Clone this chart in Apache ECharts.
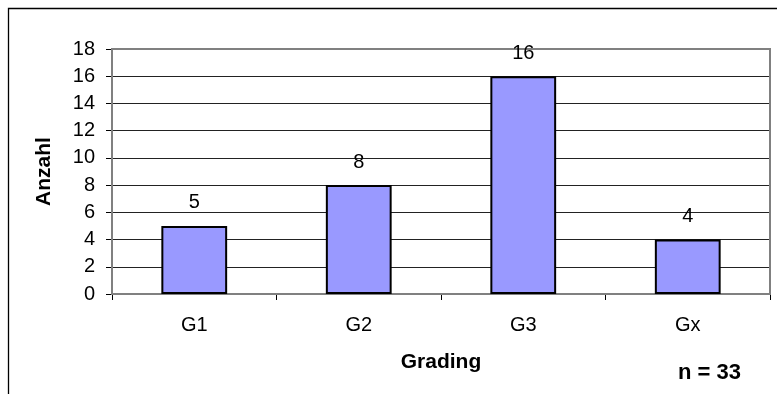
<!DOCTYPE html>
<html><head><meta charset="utf-8">
<script src="https://cdn.jsdelivr.net/npm/echarts@6/dist/echarts.min.js"></script>
<style>html,body{margin:0;padding:0;background:#fff}#c{width:777px;height:394px}</style>
</head><body><div id="c"></div>
<script>
const categories = ['G1', 'G2', 'G3', 'Gx'];
const counts = [5, 8, 16, 4];
const yTicks = [0, 2, 4, 6, 8, 10, 12, 14, 16, 18];
const F = 'Liberation Sans';
const chart = echarts.init(document.getElementById('c'), null, {renderer: 'canvas'});
chart.setOption({
  animation: false,
  backgroundColor: '#fff',
  graphic: [
    {type: 'rect', shape: {x: 8.5, y: 8.5, width: 780, height: 400}, style: {fill: 'none', stroke: '#000', lineWidth: 1.3}, silent: true, z: 0},
    {type: 'rect', shape: {x: 112, y: 49, width: 658, height: 245}, style: {fill: 'none', stroke: '#808080', lineWidth: 2}, silent: true, z: 1},
    {type: 'text', left: 678, top: 362, style: {text: 'n = 33', fontWeight: 'bold', fontSize: 22, fontFamily: F, fill: '#000'}, z: 5}
  ],
  grid: {left: 112, top: 49, width: 658, height: 245, containLabel: false},
  xAxis: {
    type: 'category', data: categories,
    name: 'Grading', nameLocation: 'middle', nameGap: 58,
    nameTextStyle: {fontWeight: 'bold', fontSize: 21, fontFamily: F, color: '#000'},
    axisLine: {lineStyle: {color: '#000', width: 1}},
    axisTick: {show: true, length: 6, lineStyle: {color: '#000'}},
    axisLabel: {fontSize: 20, fontFamily: F, color: '#000', margin: 21},
    splitLine: {show: false}
  },
  yAxis: {
    type: 'value', min: 0, max: 18, interval: 2,
    name: 'Anzahl', nameLocation: 'middle', nameGap: 57, nameRotate: 90,
    nameTextStyle: {fontWeight: 'bold', fontSize: 21, fontFamily: F, color: '#000'},
    axisLine: {show: true, lineStyle: {color: '#808080', width: 2}},
    axisTick: {show: true, length: 6, lineStyle: {color: '#000'}},
    axisLabel: {fontSize: 20, fontFamily: F, color: '#000', margin: 17,
      formatter: v => yTicks.includes(v) ? String(v) : ''},
    splitLine: {show: true, lineStyle: {color: '#222', width: 1}}
  },
  series: [{
    type: 'bar', data: counts, barWidth: '40%',
    itemStyle: {color: '#9999FF', borderColor: '#000', borderWidth: 2},
    label: {show: true, position: 'top', distance: 13, fontSize: 20, fontFamily: F, color: '#000'}
  }]
});
</script></body></html>
